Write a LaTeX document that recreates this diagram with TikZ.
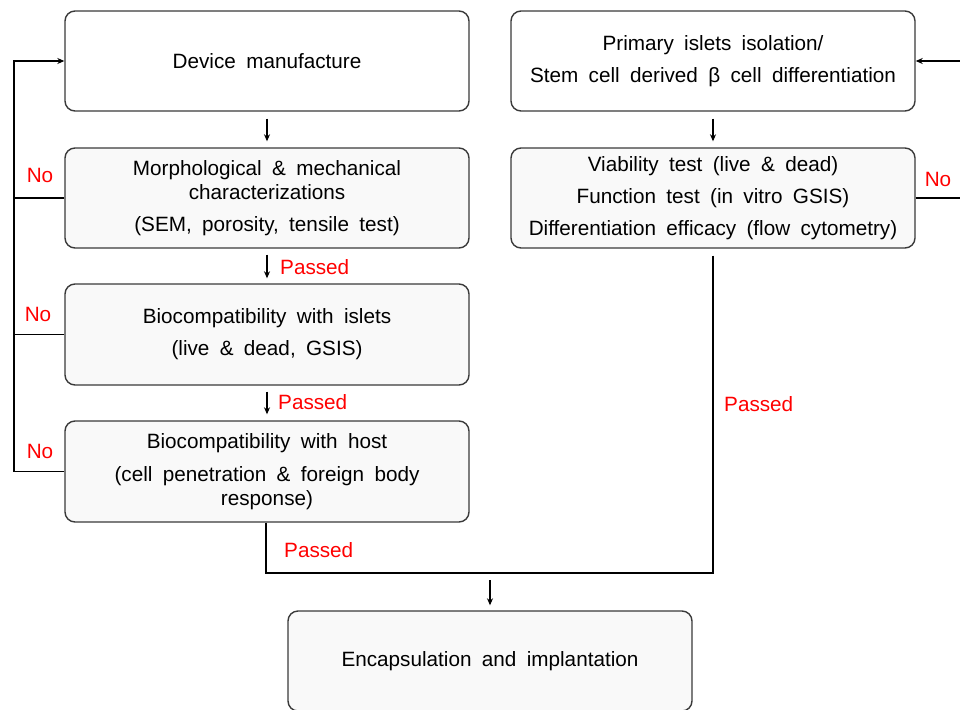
\documentclass[tikz,border=0pt]{standalone}
\usepackage{fontspec}
\setmainfont{Liberation Sans}[WordSpace=1.8]
\usetikzlibrary{arrows.meta}
\definecolor{boxline}{HTML}{3A3A3A}
\definecolor{boxfill}{HTML}{F9F9F9}
\tikzset{
  stepbox/.style={draw=boxline, line width=1.4pt, rounded corners=10pt, fill=boxfill,
    minimum width=404pt, minimum height=100pt, inner sep=0pt, align=center,
    font=\fontsize{20.7}{24}\selectfont},
  whitebox/.style={stepbox, fill=white},
  conn/.style={draw=black, line width=1.2pt},
  arr/.style={conn, -{Stealth[length=7pt,width=6pt]}},
  redlbl/.style={text=red, font=\fontsize{20.7}{24}\selectfont, inner sep=0pt},
}
\begin{document}
\begin{tikzpicture}[x=1pt,y=-1pt]
\useasboundingbox (0,0) rectangle (960,709);
\node[whitebox] (dev) at (267,61) {Device manufacture};
\node[stepbox] (morph) at (267,198) {Morphological \& mechanical\\characterizations\\[8pt](SEM, porosity, tensile test)};
\node[stepbox, minimum height=101pt] (isl) at (267,334.5) {Biocompatibility with islets\\[8pt](live \& dead, GSIS)};
\node[stepbox, minimum height=101pt] (host) at (267,471.5) {Biocompatibility with host\\[9pt](cell penetration \& foreign body\\response)};
\node[whitebox] (prim) at (713,61) {Primary islets isolation/\\[8pt]Stem cell derived β cell differentiation};
\node[stepbox] (via) at (713,198) {Viability test (live \& dead)\\[8pt]Function test (in vitro GSIS)\\[8pt]Differentiation efficacy (flow cytometry)};
\node[stepbox] (enc) at (490,661) {Encapsulation and implantation};

\coordinate (lft) at (14,0);
\coordinate (rgt) at (962,0);
\coordinate (mrg) at (490,573);

% left column arrows
\draw[arr] ([yshift=-7pt]dev.south) -- ([yshift=6pt]morph.north);
\draw[arr] ([yshift=-6pt]morph.south) -- ([yshift=5pt]isl.north);
\draw[arr] ([yshift=-6pt]isl.south) -- ([yshift=6pt]host.north);
\node[redlbl, anchor=west] (p1) at (280,267) {Passed};
\node[redlbl, anchor=west] (p2) at (278,402) {Passed};

% feedback left
\draw[arr] (host.west) -- (host.west -| lft) |- (dev.west);
\draw[conn] (morph.west) -- (morph.west -| lft);
\draw[conn] (isl.west) -- (isl.west -| lft);
\node[redlbl] (n1) at (40,175) {No};
\node[redlbl] (n2) at (38,314) {No};
\node[redlbl] (n3) at (40,451) {No};

% right column
\draw[arr] ([yshift=-7pt]prim.south) -- ([yshift=6pt]via.north);
\draw[arr] (prim.east -| rgt) -- (prim.east);
\draw[conn] (via.east) -- (via.east -| rgt);
\node[redlbl] (n4) at (938,179) {No};

% merge
\draw[conn] ([xshift=-1pt]host.south) |- (mrg);
\draw[conn] ([yshift=-7pt]via.south) |- (mrg);
\draw[arr] ([yshift=-7pt]mrg) -- ([yshift=5pt]enc.north);
\node[redlbl, anchor=west] (p3) at (284,550) {Passed};
\node[redlbl, anchor=west] (p4) at (724,404) {Passed};
\end{tikzpicture}
\end{document}
